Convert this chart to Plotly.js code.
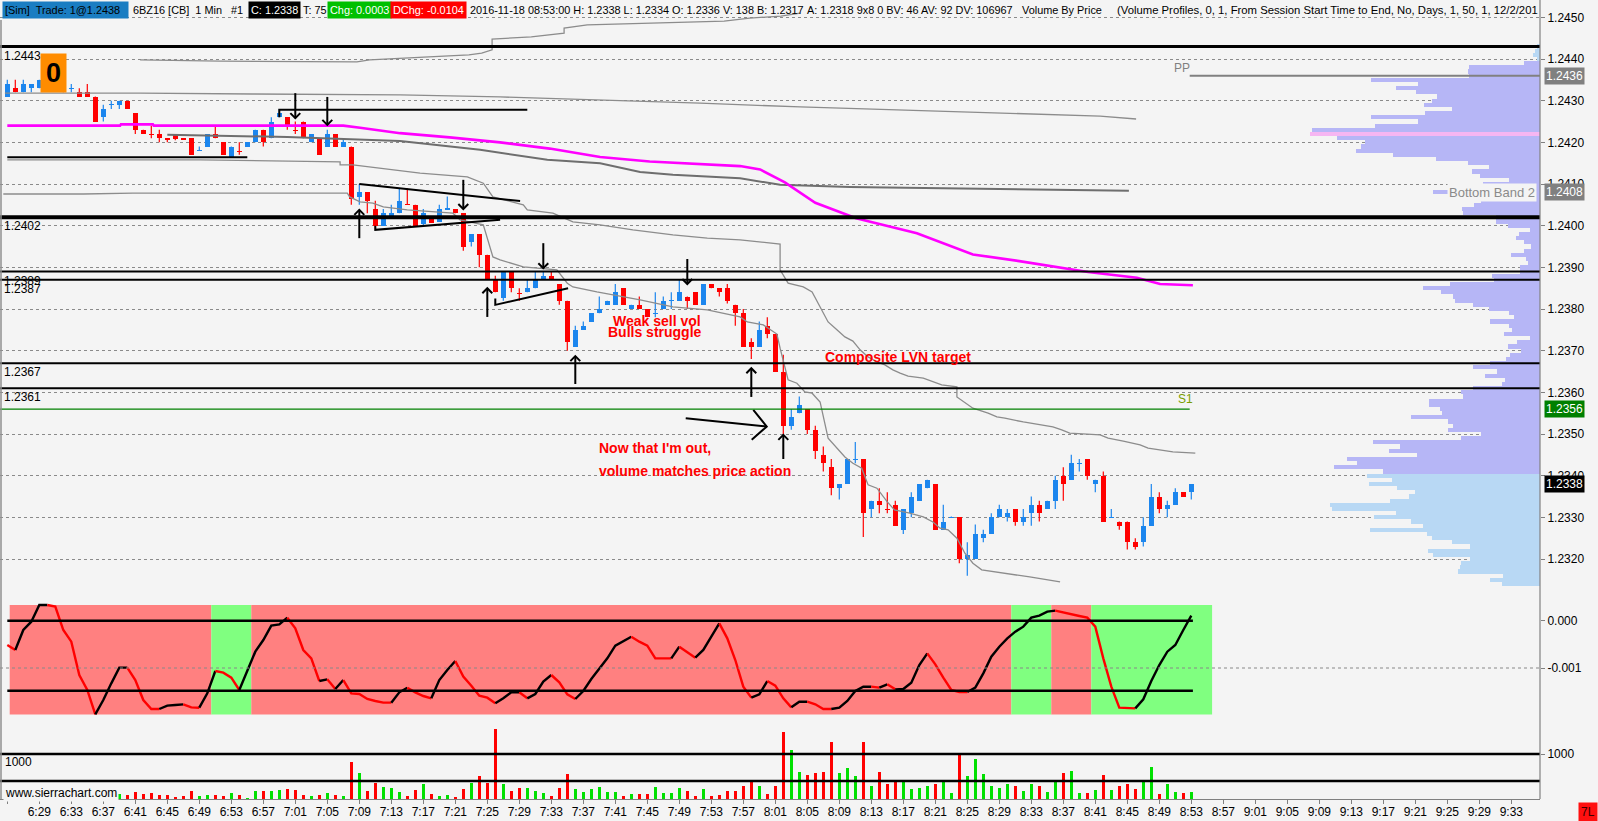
<!DOCTYPE html>
<html><head><meta charset="utf-8">
<script src="https://cdn.plot.ly/plotly-3.0.1.min.js"></script>
<style>html,body{margin:0;padding:0;background:#f4f4f4;}#chart{width:1598px;height:821px;}</style>
</head><body><div id="chart"></div>
<script>
// ---------------- DATA ----------------
const timeLabels = ['6:25','6:29','6:33','6:37','6:41','6:45','6:49','6:53','6:57','7:01','7:05','7:09','7:13','7:17','7:21','7:25','7:29','7:33','7:37','7:41','7:45','7:49','7:53','7:57','8:01','8:05','8:09','8:13','8:17','8:21','8:25','8:29','8:33','8:37','8:41','8:45','8:49','8:53','8:57','9:01','9:05','9:09','9:13','9:17','9:21','9:25','9:29','9:33'];

const open = [1.2431,1.2433,1.2432,1.2433,1.2433,1.2435,1.2436,1.2434,1.2433,1.2432,
1.2432,1.2431,1.2426,1.2429,1.2429,1.2430,1.2427,1.2423,1.2422,1.2422,
1.2421,1.24217,1.2421,1.2421,1.2418,1.2419,1.2422,1.2420,1.24165,1.2418,
1.2419,1.2420,1.2423,1.2421,1.2426,1.2426,1.2423,1.2425,1.2420,1.2421,
1.2419,1.2422,1.2419,1.2419,1.2407,1.2408,1.2404,1.2400,1.24024,1.2403,
1.24052,1.2405,1.24005,1.24015,1.2401,1.2404,1.2404,1.2403,1.2396,1.2398,
1.2393,1.2387,1.23827,1.2389,1.2384,1.2384,1.2385,1.23871,1.2388,1.2386,
1.2382,1.2371,1.2375,1.2377,1.2379,1.2381,1.2381,1.2385,1.2380,1.2381,
1.2380,1.2379,1.2380,1.2382,1.2382,1.2383,1.2384,1.2381,1.2386,1.2385,
1.2385,1.2381,1.2379,1.2372,1.2371,1.2376,1.2374,1.2365,1.2352,1.2355,
1.2356,1.2351,1.2345,1.2342,1.2337,1.2338,1.2344,1.2344,1.2332,1.2334,
1.2332,1.2333,1.2327,1.2331,1.2334,1.2337,1.2338,1.2327,1.2330,1.2330,
1.2320,1.2320,1.2325,1.2326,1.2330,1.2330,1.2332,1.2329,1.2331,1.2333,
1.2332,1.2334,1.2340,1.2339,1.2343,1.2344,1.2338,1.2340,1.2330,1.2329,
1.2329,1.2324,1.2324,1.2328,1.2335,1.2332,1.2333,1.2336,1.2336];

const high = [1.2435,1.2435,1.2435,1.2434,1.2435,1.2436,1.2437,1.2435,1.2434,1.2433,
1.2434,1.2431,1.2429,1.2430,1.2430,1.2430,1.2427,1.2423,1.2424,1.2423,
1.2421,1.2422,1.2421,1.2421,1.2419,1.2422,1.2424,1.2420,1.2419,1.2420,
1.2420,1.2423,1.2423,1.2426,1.2428,1.2426,1.2425,1.2425,1.2422,1.2421,
1.2423,1.2422,1.2421,1.2419,1.2410,1.2408,1.2406,1.2404,1.2405,1.2409,
1.2409,1.2405,1.2404,1.24015,1.2405,1.2407,1.2404,1.2403,1.2398,1.2398,
1.2393,1.2388,1.2389,1.2389,1.2385,1.2387,1.2389,1.2389,1.2389,1.2386,
1.2382,1.2376,1.2377,1.2379,1.2383,1.2382,1.2386,1.2385,1.2381,1.2383,
1.2380,1.2384,1.2383,1.2384,1.2387,1.2383,1.2384,1.2386,1.2386,1.2385,
1.2386,1.2381,1.2380,1.2373,1.2377,1.2378,1.2374,1.2369,1.2356,1.2359,
1.2356,1.2352,1.2347,1.2344,1.2338,1.2344,1.23481,1.2344,1.2334,1.2337,
1.2336,1.2334,1.2332,1.2336,1.2338,1.2339,1.2338,1.2333,1.23302,1.2330,
1.2324,1.23283,1.2327,1.2331,1.2333,1.2332,1.2332,1.2332,1.2335,1.2334,
1.2334,1.2340,1.2342,1.2345,1.2344,1.2344,1.2339,1.2341,1.2332,1.2329,
1.2329,1.2325,1.2330,1.2338,1.2336,1.2334,1.2337,1.2336,1.2338];

const low = [1.2431,1.2432,1.2432,1.2432,1.2433,1.2434,1.2434,1.2432,1.2432,1.2431,
1.2431,1.2425,1.2425,1.2428,1.2428,1.2428,1.2422,1.2422,1.2421,1.2420,
1.2420,1.24205,1.24208,1.2417,1.2418,1.2419,1.2421,1.2417,1.24165,1.2417,
1.2419,1.2420,1.2419,1.2421,1.2426,1.2423,1.2422,1.2421,1.2420,1.2417,
1.2419,1.2419,1.2419,1.2405,1.2405,1.2403,1.2399,1.2400,1.2402,1.2403,
1.2405,1.2400,1.2400,1.24007,1.2401,1.2404,1.2403,1.2394,1.2395,1.2390,
1.2387,1.2384,1.2382,1.2384,1.2382,1.2384,1.2385,1.2387,1.2387,1.2381,
1.2370,1.2371,1.2375,1.2377,1.2379,1.2381,1.2381,1.2381,1.2380,1.2380,
1.2378,1.2378,1.2380,1.2380,1.2382,1.2380,1.2381,1.2381,1.2385,1.2383,
1.23813,1.2376,1.2371,1.2368,1.2371,1.2373,1.2365,1.2350,1.2351,1.2355,
1.2350,1.2344,1.2341,1.23353,1.23343,1.2338,1.2343,1.23253,1.2330,1.2331,
1.2331,1.2328,1.2326,1.2330,1.2334,1.2337,1.2327,1.2327,1.2330,1.2319,
1.2316,1.2320,1.2324,1.2326,1.2330,1.2329,1.2328,1.2328,1.2328,1.2329,
1.2332,1.2332,1.2334,1.2339,1.2341,1.2339,1.2336,1.2329,1.2330,1.2327,
1.23223,1.23223,1.2323,1.2328,1.2331,1.2330,1.2333,1.2335,1.23343];

const close = [1.2434,1.2432,1.2434,1.2434,1.2435,1.2436,1.2434,1.2432,1.24332,1.2431,
1.2431,1.2425,1.2428,1.24292,1.2430,1.2428,1.2423,1.2422,1.24218,1.2421,
1.24208,1.24209,1.24208,1.2417,1.24182,1.2422,1.2421,1.2417,1.2419,1.24178,
1.2420,1.2423,1.2420,1.2425,1.2427,1.2424,1.24228,1.2421,1.2422,1.2417,
1.2422,1.2419,1.2420,1.24065,1.2408,1.2406,1.2400,1.2403,1.2403,1.2406,
1.2405,1.2400,1.2403,1.24007,1.2404,1.24042,1.2403,1.2395,1.2398,1.2393,
1.2387,1.2384,1.2389,1.2385,1.23838,1.2385,1.2387,1.2388,1.2387,1.2382,
1.2372,1.2375,1.2376,1.2379,1.2380,1.2382,1.2384,1.2381,1.2381,1.2380,
1.2378,1.23792,1.2382,1.23822,1.2384,1.2382,1.2381,1.2386,1.2385,1.2384,
1.2382,1.2379,1.2371,1.2371,1.2375,1.2374,1.2365,1.2352,1.2354,1.2357,
1.2351,1.2346,1.2343,1.2337,1.2338,1.2344,1.23442,1.2331,1.2334,1.2333,
1.23318,1.2328,1.2332,1.2335,1.2338,1.2339,1.2327,1.2329,1.23302,1.2320,
1.2321,1.2326,1.2326,1.2330,1.2332,1.2331,1.2329,1.2330,1.2333,1.2331,
1.2334,1.2339,1.2338,1.2343,1.23432,1.2340,1.2339,1.2329,1.23302,1.2328,
1.2324,1.2323,1.2328,1.2335,1.2332,1.2333,1.2336,1.2335,1.2338];

const volume = [120,90,150,110,90,130,100,80,120,90,110,140,100,90,
111,89,163,111,133,89,89,37,74,178,
74,89,89,74,133,96,30,178,178,185,
207,222,207,89,74,89,133,89,59,830,
578,178,356,267,252,163,74,207,333,119,
74,89,52,222,356,511,356,1556,333,185,
244,244,178,133,74,244,556,222,163,222,
267,163,148,74,111,111,111,267,133,133,
244,178,74,222,74,89,178,178,281,385,
281,111,281,1481,1081,600,
533,578,607,1259,578,689,504,1259,281,607,
333,385,385,222,244,281,333,385,133,978,
504,889,556,281,244,333,281,178,333,281,
163,385,578,630,133,133,207,533,207,281,
333,222,385,704,111,333,148,133,148];

const osc = [-0.000514,-0.000619,-0.000197,-0.000021,0.000332,0.000332,0.000297,-0.000197,-0.000443,-0.001148,
-0.001465,-0.001979,-0.001677,-0.001324,-0.000993,-0.000993,-0.001254,-0.001677,-0.001867,-0.001867,
-0.001796,-0.001782,-0.001768,-0.001832,-0.001839,-0.001536,-0.001063,-0.001099,-0.001204,-0.001465,
-0.001042,-0.000655,-0.000408,-0.000105,-0.000077,0.000064,-0.000161,-0.000619,-0.000796,-0.001275,
-0.00124,-0.001444,-0.001254,-0.001536,-0.00155,-0.001655,-0.001698,-0.001733,-0.001733,-0.001514,
-0.001416,-0.001514,-0.001592,-0.001641,-0.001254,-0.001042,-0.000852,-0.001183,-0.001374,-0.001585,
-0.001627,-0.001747,-0.001641,-0.001514,-0.001514,-0.001641,-0.00155,-0.001289,-0.001148,-0.001303,
-0.001557,-0.001655,-0.001486,-0.001233,-0.001021,-0.000796,-0.000528,-0.000429,-0.000338,-0.000443,
-0.000528,-0.000796,-0.000796,-0.000796,-0.000549,-0.000669,-0.000782,-0.000619,-0.000338,-0.000056,
-0.000373,-0.000831,-0.001395,-0.001627,-0.001557,-0.001275,-0.001374,-0.001641,-0.001832,-0.001712,
-0.001712,-0.001768,-0.001867,-0.001867,-0.001839,-0.001698,-0.001486,-0.001395,-0.001395,-0.001416,
-0.001345,-0.001451,-0.001444,-0.00131,-0.000937,-0.00069,-0.000922,-0.001204,-0.001465,-0.001507,
-0.001507,-0.001416,-0.001113,-0.00076,-0.000549,-0.000373,-0.000232,-0.000126,0.000064,0.000106,
0.000191,0.000212,0.00017,0.000135,0.000099,0.000064,-0.000126,-0.000796,-0.001395,-0.001839,
-0.001853,-0.001853,-0.001662,-0.001275,-0.000937,-0.000655,-0.000514,-0.000197,0.000106];

// background state of the oscillator panel: [fromBar, toBar, state]
const oscZones = [[0.3,25.5,'red'],[25.5,30.5,'green'],[30.5,125.5,'red'],[125.5,130.5,'green'],[130.5,135.5,'red'],[135.5,150.6,'green']];
const oscUpper = 0.0, oscLower = -0.00148;
const volLines = [1000, 400];

const profilePrices = [1.2443,1.2442,1.2441,1.2440,1.2439,1.2438,1.2437,1.2436,1.2435,1.2434,
1.2433,1.2432,1.2431,1.2430,1.2429,1.2428,1.2427,1.2426,1.2425,1.2424,
1.2423,1.2422,1.2421,1.2420,1.2419,1.2418,1.2417,1.2416,1.2415,1.2414,
1.2413,1.2412,1.2411,1.2410,1.2409,1.2408,1.2407,1.2406,1.2405,1.2404,
1.2403,1.2402,1.2401,1.2400,1.2399,1.2398,1.2397,1.2396,1.2395,1.2394,
1.2393,1.2392,1.2391,1.2390,1.2389,1.2388,1.2387,1.2386,1.2385,1.2384,
1.2383,1.2382,1.2381,1.2380,1.2379,1.2378,1.2377,1.2376,1.2375,1.2374,
1.2373,1.2372,1.2371,1.2370,1.2369,1.2368,1.2367,1.2366,1.2365,1.2364,
1.2363,1.2362,1.2361,1.2360,1.2359,1.2358,1.2357,1.2356,1.2355,1.2354,
1.2353,1.2352,1.2351,1.2350,1.2349,1.2348,1.2347,1.2346,1.2345,1.2344,
1.2343,1.2342,1.2341,1.2340,1.2339,1.2338,1.2337,1.2336,1.2335,1.2334,
1.2333,1.2332,1.2331,1.2330,1.2329,1.2328,1.2327,1.2326,1.2325,1.2324,
1.2323,1.2322,1.2321,1.2320,1.2319,1.2318,1.2317,1.2316,1.2315,1.2314];
const profileVolume = [3.3,4.7,6.7,3.3,15.7,71.3,72.3,71.3,168.7,121.7,
143.7,123.7,103,107.7,115.7,88,114.7,168.7,121.7,164.7,
227.7,229.7,202.7,175,178.7,183.7,146.7,103.7,71.7,51,
67.7,59.7,30.7,57,74,106.7,80.7,59,65.7,78,
77.3,44,44,31.7,9.7,21.3,23.7,16,8.7,16,
28.7,14,12,20,19.7,47.7,46,89.7,116.7,99,
87,84.7,66.7,50.7,31.3,25.7,49.7,30.7,28,35.7,
9.7,23.3,31.7,18.7,29.7,34,50,66.7,43.3,54.7,
34.7,38,66.7,79.3,76.7,110.7,111.3,100,98,128.7,
91.7,87.3,91.7,59,78.7,166.7,139.7,150.7,123,192.7,
183,205.7,156.7,172.7,147.7,170.7,143,125,131.3,149.7,
209.7,207.7,143.7,165.7,128.7,116.7,169.7,112.7,108,87.7,
70,111.7,106.7,70,79.3,79.7,81.7,36.7,49.7,38.3];
const profilePOC = 1.2422, valueAreaHigh = 1.2439, valueAreaLow = 1.2341;

// study lines (bar index, price)
const bandA_x = [16.6,26.6,43.7,45.3,52.7,57.7,59.3,60.6,60.6,62.8,65.5,69.6,69.6,72.5,82,89.6,92.8,96.7,99.1];
const bandA_y = [1.24398,1.24395,1.24393,1.24398,1.24405,1.24410,1.24414,1.24422,1.24448,1.24450,1.24453,1.24462,1.24474,1.24482,1.24486,1.24491,1.24498,1.24503,1.24510];
const bandB_x = [-0.3,16.6,30.7,49.1,61.6,74.1,86.6,99.1,111.6,124.1,136.6,141.1];
const bandB_y = [1.24318,1.24318,1.24316,1.24314,1.24309,1.24302,1.24294,1.24285,1.24278,1.24270,1.24263,1.24256];
const bandC_x = [20,35,49.1,59.1,67.5,74.1,79.1,83.2,91.6,96.6,105.3,124.1,140.2];
const bandC_y = [1.24218,1.24213,1.24203,1.24182,1.24158,1.24150,1.24129,1.24122,1.24114,1.24098,1.24093,1.24088,1.24084];
const bandD_x = [0,24.1,41.6,41.6,43.2,51.6,57.5,59.5,60.7,64.5,65,68.2,70.7,74.1,78.2,83.2,87.5,91.6,96.6,96.6,97.6,99.5,100.6,101.6,102.6,103.7,104.7,105.7,106.6,107.6,108.7,109.7,110.7,111.6,112.6,114.5,115.7,116.8,118.7,118.7,120.7,122.6,123.7,124.7,127,128.7,130.7,131.8,132.8,136.6,137.6,139.5,141.6,142.6,145.7,148.5];
const bandD_y = [1.24158,1.24158,1.24153,1.24146,1.24146,1.24126,1.24117,1.24102,1.24069,1.24050,1.24038,1.24030,1.24009,1.24002,1.23990,1.23978,1.23970,1.23966,1.23956,1.23894,1.23862,1.23853,1.23841,1.23805,1.23769,1.23750,1.23733,1.23723,1.23702,1.23685,1.23673,1.23666,1.23654,1.23646,1.23639,1.23634,1.23625,1.23618,1.23613,1.23589,1.23562,1.23550,1.23541,1.23538,1.23529,1.23524,1.23517,1.23510,1.23502,1.23498,1.23490,1.23483,1.23474,1.23466,1.23457,1.23454];
const bandE_x = [-0.5,9.5,15.7,42.5,42.8,44.1,45.7,47,50,55.7,56.6,59.5,60.7,61.6,64.5,68.7,70,70.7,73.7,79.1,83.2,87.5,91.6,92.5,94.5,96.2,96.6,97.6,98.7,99.7,100.6,101.6,102.6,103.7,104.7,105.7,106.8,107.6,108.7,110,110.9,112.8,114.5,115.7,116.6,117.6,118.7,119.7,120.7,121.8,124.7,127.8,131.6];
const bandE_y = [1.24076,1.24076,1.24078,1.24078,1.24069,1.24057,1.24054,1.24045,1.24038,1.24030,1.24014,1.24002,1.23925,1.23918,1.23901,1.23894,1.23862,1.23853,1.23841,1.23822,1.23805,1.23798,1.23781,1.23769,1.23762,1.23740,1.23706,1.23630,1.23622,1.23601,1.23598,1.23577,1.23490,1.23466,1.23445,1.23430,1.23418,1.23378,1.23370,1.23337,1.23318,1.23310,1.23301,1.23289,1.23274,1.23270,1.23250,1.23214,1.23190,1.23174,1.23166,1.23157,1.23145];
const vwap_x = [0,14.1,14.2,18.2,18.3,42,44.1,46.6,49.1,55.3,61.6,67.8,74.1,80.3,86.6,91.6,94.1,97.2,101,106.1,113.7,120.7,126.5,132.8,135.1,141.2,144.1,148.2];
const vwap_y = [1.2424,1.2424,1.24243,1.24243,1.2424,1.2424,1.24235,1.24228,1.24222,1.24212,1.2420,1.24185,1.24165,1.24154,1.24147,1.24143,1.24135,1.24104,1.24055,1.24018,1.23982,1.23931,1.23915,1.23895,1.23889,1.23875,1.2386,1.23857];

const levelLines = [1.2443,1.2402,1.2389,1.2387,1.2367,1.2361];
const levelWidths = [3,4,2,2,2,2];
const pivotPP = 1.2436, pivotS1 = 1.2356, bottomBand2 = 1.2408, lastPrice = 1.2338;

// drawings: [bar, tailPrice, tipPrice]
const arrowsDown = [[36,1.24318,1.24258],[40,1.24309,1.24242],[57,1.24110,1.24040],[67,1.23958,1.23898],[85,1.23920,1.23860]];
const arrowsUp = [[44,1.23970,1.24038],[60,1.23781,1.23850],[71,1.23620,1.23687],[93,1.23589,1.23658],[97,1.23440,1.23498]];
const drawLines = [
  {x:[34,34,65], y:[1.24260,1.24278,1.24278]},
  {x:[0,30], y:[1.24164,1.24164]},
  {x:[44,64.1], y:[1.24100,1.24059]},
  {x:[46,46,61.6], y:[1.24000,1.23990,1.24014]},
  {x:[61,61,70.1], y:[1.23825,1.23810,1.23850]},
  {x:[84.8,94.93], y:[1.23538,1.23518]},
  {x:[93.25,94.93,93.05], y:[1.23558,1.23518,1.23486]}
];

// ---------------- GEOMETRY ----------------
const W = 1598, H = 821, AX = 1540;
const xDom = AX / W;
const xRange = [(0 - 7.3) / 8, (AX - 7.3) / 8];
const pxY = y => 1 - y / H;
const pxX = x => x / W;
const priceRange = [1.2440 - (596 - 59) / 41670, 1.2440 + 59 / 41670];
const oscRange = [(620.7 - 716) / 47300, (620.7 - 600) / 47300];
const volRange = [0, (799 - 718) / 0.045];

const BLUE = '#1c86ee', RED = '#ff0000', GREEN = '#00e000';
const FONT = 'Liberation Sans, Arial, sans-serif';

// ---------------- TRACES ----------------
const traces = [];
const N = open.length;
const idx = open.map((_, i) => i);

traces.push({
  type:'bar', orientation:'h', xaxis:'x2', yaxis:'y',
  y: profilePrices, x: profileVolume, width: 0.0001,
  marker:{color: profilePrices.map(p => Math.abs(p - profilePOC) < 1e-7 ? '#f6b6f2' :
      (p > valueAreaHigh + 1e-7 || p < valueAreaLow - 1e-7) ? '#b8d8f4' : '#b6b6f6'), line:{width:0}},
  hoverinfo:'skip'
});

const up = idx.filter(i => close[i] >= open[i]);
const dn = idx.filter(i => close[i] < open[i]);
function wick(list){ const x=[],y=[]; list.forEach(i=>{x.push(i,i,null);y.push(low[i],high[i],null);}); return {x,y}; }
[[up,BLUE],[dn,RED]].forEach(([list,col])=>{
  const w = wick(list);
  traces.push({type:'scatter',mode:'lines',x:w.x,y:w.y,line:{color:col,width:1.2},hoverinfo:'skip',xaxis:'x',yaxis:'y'});
  traces.push({type:'bar',x:list,y:list.map(i=>Math.max(Math.abs(close[i]-open[i]),0.000025)),
    base:list.map(i=>Math.min(open[i],close[i]) - (Math.abs(close[i]-open[i])<0.000025?0.0000125:0)),
    width:0.62, marker:{color:col,line:{width:0}}, xaxis:'x', yaxis:'y', hoverinfo:'skip'});
});

[[bandA_x,bandA_y,'#8c8c8c',1.3],[bandB_x,bandB_y,'#8c8c8c',1.3],[bandC_x,bandC_y,'#6e6e6e',2],
 [bandD_x,bandD_y,'#8c8c8c',1.3],[bandE_x,bandE_y,'#8c8c8c',1.3]].forEach(([x,y,c,w])=>{
  traces.push({type:'scatter',mode:'lines',x,y,line:{color:c,width:w},xaxis:'x',yaxis:'y',hoverinfo:'skip'});
});
traces.push({type:'scatter',mode:'lines',x:vwap_x,y:vwap_y,line:{color:'#ff00ff',width:2.6},xaxis:'x',yaxis:'y',hoverinfo:'skip'});

drawLines.forEach(d=>traces.push({type:'scatter',mode:'lines',x:d.x,y:d.y,line:{color:'#000',width:2},xaxis:'x',yaxis:'y',hoverinfo:'skip'}));
const HX = 0.62, HY = 0.00012;
arrowsDown.forEach(([i,t,p])=>{
  traces.push({type:'scatter',mode:'lines',x:[i,i,null,i-HX,i,i+HX],y:[t,p,null,p+HY,p,p+HY],line:{color:'#000',width:2},xaxis:'x',yaxis:'y',hoverinfo:'skip'});
});
arrowsUp.forEach(([i,t,p])=>{
  traces.push({type:'scatter',mode:'lines',x:[i,i,null,i-HX,i,i+HX],y:[t,p,null,p-HY,p,p-HY],line:{color:'#000',width:2},xaxis:'x',yaxis:'y',hoverinfo:'skip'});
});

const segs = []; let cur = null;
for (let i = 1; i < N; i++) {
  const col = osc[i] > osc[i-1] ? '#000000' : (osc[i] < osc[i-1] ? RED : (cur ? cur.col : RED));
  if (!cur || cur.col !== col) { cur = {col, x:[i-1], y:[osc[i-1]]}; segs.push(cur); }
  cur.x.push(i); cur.y.push(osc[i]);
}
segs.forEach(s=>traces.push({type:'scatter',mode:'lines',x:s.x,y:s.y,line:{color:s.col,width:2.4},xaxis:'x',yaxis:'y2',hoverinfo:'skip'}));

traces.push({type:'bar',x:idx,y:volume,width:0.3,
  marker:{color:idx.map(i=>close[i]>=open[i]?GREEN:RED),line:{width:0}},xaxis:'x',yaxis:'y3',hoverinfo:'skip'});

// ---------------- SHAPES ----------------
const shapes = [];
oscZones.forEach(([a,b,s])=>shapes.push({type:'rect',xref:'x',yref:'y2',x0:a,x1:b,
  y0:(620.7-605)/47300, y1:(620.7-714.5)/47300, fillcolor:s==='red'?'#ff8080':'#80ff80',line:{width:0},layer:'below'}));
shapes.push({type:'line',xref:'x',yref:'y2',x0:xRange[0],x1:xRange[1],y0:-0.001,y1:-0.001,line:{color:'#888',width:1,dash:'dot'}});
[oscUpper,oscLower].forEach(v=>shapes.push({type:'line',xref:'x',yref:'y2',x0:0,x1:148.2,y0:v,y1:v,line:{color:'#000',width:2.5}}));
volLines.forEach(v=>shapes.push({type:'line',xref:'x',yref:'y3',x0:xRange[0],x1:xRange[1],y0:v,y1:v,line:{color:'#000',width:2.5}}));
levelLines.forEach((p,k)=>shapes.push({type:'line',xref:'x',yref:'y',x0:xRange[0],x1:xRange[1],y0:p,y1:p,line:{color:'#000',width:levelWidths[k]}}));
shapes.push({type:'line',xref:'x',yref:'y',x0:xRange[0],x1:147.8,y0:pivotS1,y1:pivotS1,line:{color:'#008000',width:1.2}});
shapes.push({type:'line',xref:'x',yref:'y',x0:147.8,x1:xRange[1],y0:pivotPP,y1:pivotPP,line:{color:'#808080',width:2}});
shapes.push({type:'line',xref:'paper',yref:'paper',x0:xDom,x1:xDom,y0:pxY(0),y1:pxY(799),line:{color:'#808080',width:1.2}});
shapes.push({type:'line',xref:'paper',yref:'paper',x0:pxX(1),x1:pxX(1),y0:pxY(20),y1:pxY(799),line:{color:'#909090',width:1.5}});

// ---------------- ANNOTATIONS ----------------
const ann = [];
function txt(x, y, text, opt){ ann.push(Object.assign({xref:'paper',yref:'paper',x:pxX(x),y:pxY(y),text,showarrow:false,xanchor:'left',yanchor:'middle',
  font:{family:FONT,size:12,color:'#000'}}, opt||{})); }

const header = [
  [2,'[Sim]  Trade: 1@1.2438  ','#1a7dc2','#000',10.9],
  [131,'6BZ16 [CB]  1 Min   #1',null,'#000',10.9],
  [248,'C: 1.2338','#000000','#fff',10.9],
  [301,'T: 75',null,'#000',10.9],
  [327,'Chg: 0.0003','#00c000','#fff',10.9],
  [390,'DChg: -0.0104','#ff0000','#fff',10.9],
  [468,'2016-11-18 08:53:00 H: 1.2338 L: 1.2334 O: 1.2336 V: 138 B: 1.2317',null,'#000',10.9],
  [805,'A: 1.2318 9x8 0 BV: 46 AV: 92 DV: 106967',null,'#000',10.9],
  [1020,'Volume By Price',null,'#000',10.9],
  [1115,'(Volume Profiles, 0, 1, From Session Start Time to End, No, Days, 1, 50, 1, 12/2/201',null,'#000',11.3]
];
header.forEach(([x,t,bg,fg,fs])=>txt(x,10,t,Object.assign({font:{family:FONT,size:fs,color:fg}},bg?{bgcolor:bg,borderpad:2}:{})));

levelLines.forEach(p=>ann.push({xref:'paper',yref:'y',x:pxX(2),y:p,yshift:-9,text:p.toFixed(4),showarrow:false,xanchor:'left',yanchor:'middle',font:{family:FONT,size:12,color:'#000'}}));

[[pivotPP,'#808080'],[bottomBand2,'#808080'],[pivotS1,'#008000'],[lastPrice,'#000000']].forEach(([p,bg])=>
  ann.push({xref:'paper',yref:'y',x:pxX(1544),y:p,text:p.toFixed(4),showarrow:false,xanchor:'left',yanchor:'middle',bgcolor:bg,borderpad:1,font:{family:FONT,size:12,color:'#fff'}}));

ann.push({xref:'paper',yref:'y',x:pxX(1537),y:bottomBand2,text:'Bottom Band 2',showarrow:false,xanchor:'right',yanchor:'middle',bgcolor:'#f4f4f4',font:{family:FONT,size:13,color:'#8a8a8a'}});
ann.push({xref:'paper',yref:'y',x:pxX(1172),y:pivotPP,yshift:8,text:'PP',showarrow:false,xanchor:'left',yanchor:'middle',font:{family:FONT,size:12,color:'#808080'}});
ann.push({xref:'paper',yref:'y',x:pxX(1176),y:pivotS1,yshift:10,text:'S1',showarrow:false,xanchor:'left',yanchor:'middle',font:{family:FONT,size:12,color:'#7a9e00'}});

ann.push({xref:'paper',yref:'paper',x:pxX(53.5),y:pxY(73),text:'<b>0</b>',showarrow:false,xanchor:'center',yanchor:'middle',
  bgcolor:'#ff8c00',width:21,height:34,borderpad:2,font:{family:FONT,size:27,color:'#000'}});

const RFONT = {family:FONT,size:14,color:'#ff0000'};
txt(657,321,'<b>Weak sell vol</b>',{xanchor:'center',font:RFONT});
txt(655,332,'<b>Bulls struggle</b>',{xanchor:'center',font:RFONT});
txt(898,357,'<b>Composite LVN target</b>',{xanchor:'center',font:RFONT});
txt(597,448,"<b>Now that I'm out,</b>",{font:RFONT});
txt(597,471,'<b>volume matches price action</b>',{font:RFONT});

txt(3,793,'www.sierrachart.com',{bgcolor:'#f4f4f4',borderpad:1,font:{family:FONT,size:12,color:'#000'}});
txt(3,762,'1000',{font:{family:FONT,size:12,color:'#000'}});
ann.push({xref:'paper',yref:'paper',x:1,y:pxY(812),text:'7L',showarrow:false,xanchor:'right',yanchor:'middle',bgcolor:'#ff1010',borderpad:2,font:{family:FONT,size:12,color:'#400000'}});

// ---------------- LAYOUT ----------------
const axFont = {family:FONT,size:12,color:'#000'};
const layout = {
  width:W, height:H, margin:{l:0,r:0,t:0,b:0},
  paper_bgcolor:'#f4f4f4', plot_bgcolor:'#f4f4f4',
  showlegend:false, barmode:'overlay', bargap:0,
  font:{family:FONT},
  xaxis:{domain:[0,xDom],range:xRange,anchor:'y3',tickmode:'array',
    tickvals:timeLabels.map((_,k)=>k*4),ticktext:timeLabels,ticks:'outside',ticklen:4,tickcolor:'#808080',ticklabelstandoff:-3,
    showline:true,linecolor:'#808080',linewidth:1.2,showgrid:false,zeroline:false,tickfont:axFont,fixedrange:true},
  xaxis2:{overlaying:'x',anchor:'y',range:[AX,0],visible:false,fixedrange:true},
  yaxis:{domain:[pxY(596),1],range:priceRange,side:'right',anchor:'x',tick0:1.232,dtick:0.001,tickformat:'.4f',
    ticks:'outside',ticklen:4,tickcolor:'#808080',showline:false,showgrid:true,gridcolor:'#8a8a8a',griddash:'dot',gridwidth:1,
    zeroline:false,tickfont:axFont,fixedrange:true},
  yaxis2:{domain:[pxY(716),pxY(600)],range:oscRange,side:'right',anchor:'x',tickmode:'array',tickvals:[0,-0.001],ticktext:['0.000','-0.001'],
    ticks:'outside',ticklen:4,tickcolor:'#808080',showgrid:false,zeroline:false,tickfont:axFont,fixedrange:true},
  yaxis3:{domain:[pxY(799),pxY(718)],range:volRange,side:'right',anchor:'x',tickmode:'array',tickvals:[1000],ticktext:['1000'],
    ticks:'outside',ticklen:4,tickcolor:'#808080',showgrid:false,zeroline:false,tickfont:axFont,fixedrange:true},
  shapes, annotations: ann
};

Plotly.newPlot('chart', traces, layout, {displayModeBar:false, staticPlot:true});
</script></body></html>
